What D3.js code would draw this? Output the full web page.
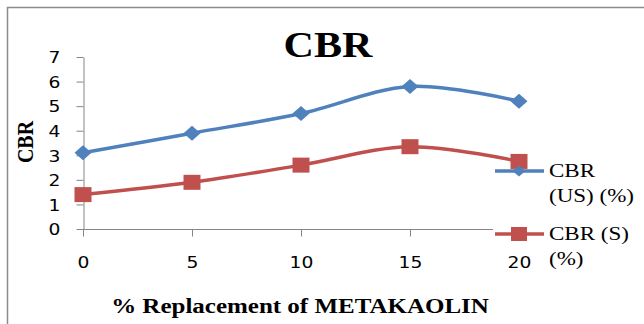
<!DOCTYPE html>
<html>
<head>
<meta charset="utf-8">
<script src="https://cdn.jsdelivr.net/npm/d3@7"></script>
<style>
  html, body { margin: 0; padding: 0; background: #fff; }
  svg { display: block; }
</style>
</head>
<body>
<svg id="chart" width="644" height="324"></svg>
<script>
// Metakaolin replacement levels (%) and CBR values
const categories = ["0", "5", "10", "15", "20"];
const cbrUnsoaked = [3.1, 3.9, 4.7, 5.8, 5.2];
const cbrSoaked = [1.4, 1.9, 2.6, 3.35, 2.75];
const yTicks = [0, 1, 2, 3, 4, 5, 6, 7];
const legendLabels = [["CBR", "(US) (%)"], ["CBR (S)", "(%)"]];

const BLUE = "#4F81BD";
const RED = "#C0504D";
const SX = 1.17; // horizontal text stretch

const svg = d3.select("#chart");

// outer frame (top and left edges)
svg.append("path")
  .attr("d", "M7.5,324 V7.5 H644")
  .attr("fill", "none")
  .attr("stroke", "#8c8c8c")
  .attr("stroke-width", 1.5);

const x = d3.scalePoint().domain(categories).range([83, 519]).padding(0);
const y = d3.scaleLinear().domain([0, 7]).range([229, 57]);

// y axis
const gy = svg.append("g").attr("transform", "translate(83.5,0)")
  .call(d3.axisLeft(y).tickValues(yTicks).tickSize(7).tickSizeOuter(0).tickFormat(d3.format("d")));
gy.select(".domain").attr("stroke", "#868686");
gy.selectAll(".tick line").attr("stroke", "#868686");
gy.selectAll(".tick text")
  .attr("x", -23 / SX)
  .attr("dy", "0.36em")
  .attr("transform", `scale(${SX},1)`)
  .attr("font-family", "DejaVu Sans, Verdana, sans-serif")
  .attr("font-size", 16)
  .attr("fill", "#000");

// x axis (its right end sits under the legend)
const gx = svg.append("g").attr("transform", "translate(0,229.5)")
  .call(d3.axisBottom(x).tickSize(7).tickSizeOuter(0));
gx.select(".domain").attr("stroke", "#868686").attr("d", `M${x(categories[0])},0H493`);
gx.selectAll(".tick line").attr("stroke", "#868686")
  .attr("visibility", d => x(d) > 493 ? "hidden" : null);
gx.selectAll(".tick text")
  .attr("x", 0)
  .attr("y", 38.5)
  .attr("dy", 0)
  .attr("transform", `scale(${SX},1)`)
  .attr("font-family", "DejaVu Sans, Verdana, sans-serif")
  .attr("font-size", 16)
  .attr("fill", "#000");

// series lines (smoothed)
const line = d3.line()
  .x((d, i) => x(categories[i]))
  .y(d => y(d))
  .curve(d3.curveCatmullRom.alpha(0));

svg.append("path").datum(cbrUnsoaked)
  .attr("d", line).attr("fill", "none")
  .attr("stroke", BLUE).attr("stroke-width", 3.5).attr("stroke-linejoin", "round");
svg.append("path").datum(cbrSoaked)
  .attr("d", line).attr("fill", "none")
  .attr("stroke", RED).attr("stroke-width", 3.5).attr("stroke-linejoin", "round");

function diamond(cx, cy, hw, hh) {
  return `M${cx},${cy - hh} L${cx + hw},${cy} L${cx},${cy + hh} L${cx - hw},${cy} Z`;
}

svg.append("g").selectAll("path").data(cbrUnsoaked).join("path")
  .attr("d", (d, i) => diamond(x(categories[i]), y(d), 8.5, 7.5))
  .attr("fill", BLUE);

svg.append("g").selectAll("rect").data(cbrSoaked).join("rect")
  .attr("x", (d, i) => x(categories[i]) - 8.5)
  .attr("y", d => y(d) - 7.5)
  .attr("width", 17).attr("height", 15)
  .attr("fill", RED);

// title
svg.append("text")
  .attr("transform", `translate(328,57) scale(${SX},1)`)
  .attr("text-anchor", "middle")
  .attr("font-family", "Liberation Serif, Times New Roman, serif")
  .attr("font-weight", "bold").attr("font-size", 36)
  .text("CBR");

// axis titles
svg.append("text")
  .attr("transform", `translate(33,142) scale(${SX},1) rotate(-90)`)
  .attr("text-anchor", "middle")
  .attr("font-family", "Liberation Serif, Times New Roman, serif")
  .attr("font-weight", "bold").attr("font-size", 20)
  .text("CBR");

svg.append("text")
  .attr("transform", `translate(300,313) scale(1.25,1)`)
  .attr("text-anchor", "middle")
  .attr("font-family", "Liberation Serif, Times New Roman, serif")
  .attr("font-weight", "bold").attr("font-size", 20)
  .text("% Replacement of METAKAOLIN");

// legend
const legend = svg.append("g");
const legendRows = [
  { cy: 171, color: BLUE, shape: "diamond" },
  { cy: 234, color: RED, shape: "square" }
];
legendRows.forEach((r, k) => {
  legend.append("line")
    .attr("x1", 495).attr("x2", 544).attr("y1", r.cy).attr("y2", r.cy)
    .attr("stroke", r.color).attr("stroke-width", 3.5);
  if (r.shape === "diamond") {
    legend.append("path").attr("d", diamond(519, r.cy, 6.5, 5.5)).attr("fill", r.color);
  } else {
    legend.append("rect").attr("x", 519 - 8).attr("y", r.cy - 7)
      .attr("width", 16).attr("height", 14).attr("fill", r.color);
  }
  const t = legend.append("text")
    .attr("transform", `translate(549,${r.cy + 6}) scale(1.28,1)`)
    .attr("font-family", "Liberation Serif, Times New Roman, serif")
    .attr("font-size", 18).attr("fill", "#000");
  t.append("tspan").attr("x", 0).attr("y", 0).text(legendLabels[k][0]);
  t.append("tspan").attr("x", 0).attr("y", 25).text(legendLabels[k][1]);
});
</script>
</body>
</html>
